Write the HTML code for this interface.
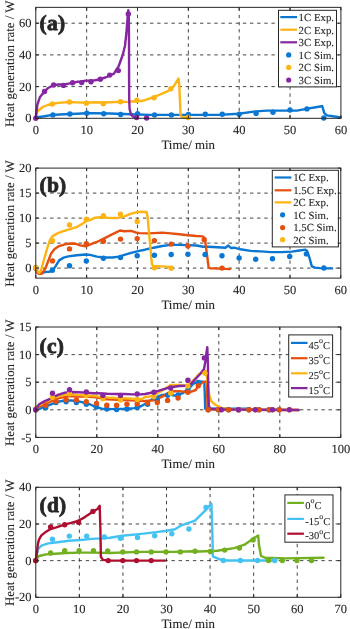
<!DOCTYPE html><html><head><meta charset="utf-8"><style>html,body{margin:0;padding:0;background:#fff;}svg{display:block;filter:blur(0.35px);} text{font-family:"Liberation Serif",serif;fill:#262626;stroke:#262626;stroke-width:0.1px;text-rendering:geometricPrecision;}</style></head><body>
<svg width="350" height="629" viewBox="0 0 350 629">
<rect width="350" height="629" fill="#fff"/>
<rect x="35.8" y="7.35" width="305.09999999999997" height="110.95" fill="#fff"/>
<line x1="86.65" y1="118.3" x2="86.65" y2="7.35" stroke="#262626" stroke-width="1" stroke-dasharray="3.4 3.75" stroke-opacity="0.85"/>
<line x1="137.50" y1="118.3" x2="137.50" y2="7.35" stroke="#262626" stroke-width="1" stroke-dasharray="3.4 3.75" stroke-opacity="0.85"/>
<line x1="188.35" y1="118.3" x2="188.35" y2="7.35" stroke="#262626" stroke-width="1" stroke-dasharray="3.4 3.75" stroke-opacity="0.85"/>
<line x1="239.20" y1="118.3" x2="239.20" y2="7.35" stroke="#262626" stroke-width="1" stroke-dasharray="3.4 3.75" stroke-opacity="0.85"/>
<line x1="290.05" y1="118.3" x2="290.05" y2="7.35" stroke="#262626" stroke-width="1" stroke-dasharray="3.4 3.75" stroke-opacity="0.85"/>
<line x1="35.8" y1="86.60" x2="340.9" y2="86.60" stroke="#262626" stroke-width="1" stroke-dasharray="3.4 3.74" stroke-opacity="0.85"/>
<line x1="35.8" y1="54.90" x2="340.9" y2="54.90" stroke="#262626" stroke-width="1" stroke-dasharray="3.4 3.74" stroke-opacity="0.85"/>
<line x1="35.8" y1="23.20" x2="340.9" y2="23.20" stroke="#262626" stroke-width="1" stroke-dasharray="3.4 3.74" stroke-opacity="0.85"/>
<polyline points="35.7,118.0 39.0,117.0 44.3,116.3 52.4,114.9 59.7,114.5 69.5,114.0 77.0,113.7 86.3,113.2 94.0,113.2 110.0,113.5 130.0,114.3 150.0,114.9 190.0,114.9 218.6,114.9 238.6,113.7 255.7,111.4 267.0,110.6 287.0,110.6 296.9,110.6 306.3,108.9 315.7,107.2 321.7,106.3 322.2,106.0 324.3,113.2 326.9,115.4 332.9,116.2 340.6,117.4" fill="none" stroke="#0A77D2" stroke-width="2.4" stroke-linejoin="round" stroke-linecap="round"/>
<polyline points="35.7,118.0 37.4,111.5 42.6,107.0 47.7,105.0 52.0,104.0 58.0,102.9 69.2,102.0 77.0,102.4 86.3,102.8 94.0,102.2 102.9,102.5 110.0,102.2 120.5,101.9 128.0,101.7 136.6,101.2 141.5,101.0 146.3,99.6 154.1,97.0 160.4,94.4 166.7,91.7 171.4,88.9 174.6,84.9 178.6,78.4 179.3,85.7 180.6,115.6 182.5,117.2 188.0,117.8" fill="none" stroke="#FDB414" stroke-width="2.4" stroke-linejoin="round" stroke-linecap="round"/>
<polyline points="35.7,118.3 37.4,104.6 40.0,96.9 44.6,91.4 47.7,88.3 53.7,85.0 58.9,84.5 63.5,84.5 68.3,83.7 72.6,82.8 76.9,81.8 81.7,81.5 85.5,80.6 90.6,80.6 95.1,80.2 100.3,79.2 105.4,77.5 110.0,75.5 114.0,73.7 116.4,69.5 118.3,67.0 120.0,62.5 122.9,54.3 125.0,45.7 126.4,33.0 127.4,20.0 128.3,10.3 128.8,14.0 129.0,40.0 129.1,80.0 129.2,100.0 129.6,109.0 130.9,114.3 133.1,116.6 136.0,117.4 137.0,117.5" fill="none" stroke="#8626A0" stroke-width="2.4" stroke-linejoin="round" stroke-linecap="round"/>
<circle cx="52.9" cy="114.9" r="2.7" fill="#0A77D2"/>
<circle cx="69.9" cy="114.0" r="2.7" fill="#0A77D2"/>
<circle cx="86.8" cy="113.2" r="2.7" fill="#0A77D2"/>
<circle cx="103.7" cy="113.7" r="2.7" fill="#0A77D2"/>
<circle cx="120.7" cy="114.5" r="2.7" fill="#0A77D2"/>
<circle cx="137.6" cy="113.7" r="2.7" fill="#0A77D2"/>
<circle cx="154.5" cy="114.9" r="2.7" fill="#0A77D2"/>
<circle cx="171.4" cy="114.9" r="2.7" fill="#0A77D2"/>
<circle cx="188.4" cy="114.5" r="2.7" fill="#0A77D2"/>
<circle cx="205.3" cy="114.3" r="2.7" fill="#0A77D2"/>
<circle cx="222.3" cy="114.3" r="2.7" fill="#0A77D2"/>
<circle cx="239.2" cy="114.3" r="2.7" fill="#0A77D2"/>
<circle cx="256.1" cy="113.4" r="2.7" fill="#0A77D2"/>
<circle cx="273.0" cy="112.3" r="2.7" fill="#0A77D2"/>
<circle cx="290.0" cy="110.0" r="2.7" fill="#0A77D2"/>
<circle cx="306.9" cy="108.9" r="2.7" fill="#0A77D2"/>
<circle cx="323.8" cy="118.0" r="2.7" fill="#0A77D2"/>
<circle cx="52.4" cy="104.0" r="2.7" fill="#FDB414"/>
<circle cx="69.4" cy="102.0" r="2.7" fill="#FDB414"/>
<circle cx="86.3" cy="103.2" r="2.7" fill="#FDB414"/>
<circle cx="103.2" cy="103.7" r="2.7" fill="#FDB414"/>
<circle cx="120.5" cy="101.7" r="2.7" fill="#FDB414"/>
<circle cx="136.9" cy="100.3" r="2.7" fill="#FDB414"/>
<circle cx="154.1" cy="97.7" r="2.7" fill="#FDB414"/>
<circle cx="170.9" cy="88.8" r="2.7" fill="#FDB414"/>
<circle cx="188.0" cy="117.5" r="2.7" fill="#FDB414"/>
<circle cx="35.8" cy="118.3" r="2.7" fill="#8626A0"/>
<circle cx="44.5" cy="91.5" r="2.7" fill="#8626A0"/>
<circle cx="53.6" cy="85.0" r="2.7" fill="#8626A0"/>
<circle cx="63.5" cy="85.4" r="2.7" fill="#8626A0"/>
<circle cx="72.6" cy="82.8" r="2.7" fill="#8626A0"/>
<circle cx="81.7" cy="82.6" r="2.7" fill="#8626A0"/>
<circle cx="91.0" cy="81.7" r="2.7" fill="#8626A0"/>
<circle cx="100.3" cy="79.2" r="2.7" fill="#8626A0"/>
<circle cx="109.7" cy="75.1" r="2.7" fill="#8626A0"/>
<circle cx="118.3" cy="70.6" r="2.7" fill="#8626A0"/>
<circle cx="128.3" cy="14.0" r="2.7" fill="#8626A0"/>
<circle cx="136.6" cy="117.5" r="2.7" fill="#8626A0"/>
<circle cx="146.6" cy="118.0" r="2.7" fill="#8626A0"/>
<rect x="278.5" y="10.3" width="58.0" height="76.60000000000001" fill="#fff" stroke="#262626" stroke-width="1"/>
<line x1="280.3" y1="17.1" x2="297" y2="17.1" stroke="#0A77D2" stroke-width="2.2"/>
<text x="298.60" y="20.90" font-size="10.8" text-anchor="start" font-weight="normal" >1C Exp.</text>
<line x1="280.3" y1="29.7" x2="297" y2="29.7" stroke="#FDB414" stroke-width="2.2"/>
<text x="298.60" y="33.50" font-size="10.8" text-anchor="start" font-weight="normal" >2C Exp.</text>
<line x1="280.3" y1="42.3" x2="297" y2="42.3" stroke="#8626A0" stroke-width="2.2"/>
<text x="298.60" y="46.10" font-size="10.8" text-anchor="start" font-weight="normal" >3C Exp.</text>
<circle cx="288.7" cy="54.9" r="2.6" fill="#0A77D2"/>
<text x="298.60" y="58.70" font-size="10.8" text-anchor="start" font-weight="normal" >1C Sim.</text>
<circle cx="288.7" cy="67.4" r="2.6" fill="#FDB414"/>
<text x="298.60" y="71.20" font-size="10.8" text-anchor="start" font-weight="normal" >2C Sim.</text>
<circle cx="288.7" cy="80.0" r="2.6" fill="#8626A0"/>
<text x="298.60" y="83.80" font-size="10.8" text-anchor="start" font-weight="normal" >3C Sim.</text>
<line x1="35.80" y1="118.3" x2="35.80" y2="115.3" stroke="#262626" stroke-width="1"/>
<line x1="35.80" y1="7.35" x2="35.80" y2="10.35" stroke="#262626" stroke-width="1"/>
<text x="35.80" y="133.90" font-size="12.5" text-anchor="middle" font-weight="normal" >0</text>
<line x1="86.65" y1="118.3" x2="86.65" y2="115.3" stroke="#262626" stroke-width="1"/>
<line x1="86.65" y1="7.35" x2="86.65" y2="10.35" stroke="#262626" stroke-width="1"/>
<text x="86.65" y="133.90" font-size="12.5" text-anchor="middle" font-weight="normal" >10</text>
<line x1="137.50" y1="118.3" x2="137.50" y2="115.3" stroke="#262626" stroke-width="1"/>
<line x1="137.50" y1="7.35" x2="137.50" y2="10.35" stroke="#262626" stroke-width="1"/>
<text x="137.50" y="133.90" font-size="12.5" text-anchor="middle" font-weight="normal" >20</text>
<line x1="188.35" y1="118.3" x2="188.35" y2="115.3" stroke="#262626" stroke-width="1"/>
<line x1="188.35" y1="7.35" x2="188.35" y2="10.35" stroke="#262626" stroke-width="1"/>
<text x="188.35" y="133.90" font-size="12.5" text-anchor="middle" font-weight="normal" >30</text>
<line x1="239.20" y1="118.3" x2="239.20" y2="115.3" stroke="#262626" stroke-width="1"/>
<line x1="239.20" y1="7.35" x2="239.20" y2="10.35" stroke="#262626" stroke-width="1"/>
<text x="239.20" y="133.90" font-size="12.5" text-anchor="middle" font-weight="normal" >40</text>
<line x1="290.05" y1="118.3" x2="290.05" y2="115.3" stroke="#262626" stroke-width="1"/>
<line x1="290.05" y1="7.35" x2="290.05" y2="10.35" stroke="#262626" stroke-width="1"/>
<text x="290.05" y="133.90" font-size="12.5" text-anchor="middle" font-weight="normal" >50</text>
<line x1="340.90" y1="118.3" x2="340.90" y2="115.3" stroke="#262626" stroke-width="1"/>
<line x1="340.90" y1="7.35" x2="340.90" y2="10.35" stroke="#262626" stroke-width="1"/>
<text x="340.90" y="133.90" font-size="12.5" text-anchor="middle" font-weight="normal" >60</text>
<line x1="35.8" y1="118.30" x2="38.8" y2="118.30" stroke="#262626" stroke-width="1"/>
<line x1="340.9" y1="118.30" x2="337.9" y2="118.30" stroke="#262626" stroke-width="1"/>
<text x="31.60" y="122.40" font-size="12.5" text-anchor="end" font-weight="normal" >0</text>
<line x1="35.8" y1="86.60" x2="38.8" y2="86.60" stroke="#262626" stroke-width="1"/>
<line x1="340.9" y1="86.60" x2="337.9" y2="86.60" stroke="#262626" stroke-width="1"/>
<text x="31.60" y="90.70" font-size="12.5" text-anchor="end" font-weight="normal" >20</text>
<line x1="35.8" y1="54.90" x2="38.8" y2="54.90" stroke="#262626" stroke-width="1"/>
<line x1="340.9" y1="54.90" x2="337.9" y2="54.90" stroke="#262626" stroke-width="1"/>
<text x="31.60" y="59.00" font-size="12.5" text-anchor="end" font-weight="normal" >40</text>
<line x1="35.8" y1="23.20" x2="38.8" y2="23.20" stroke="#262626" stroke-width="1"/>
<line x1="340.9" y1="23.20" x2="337.9" y2="23.20" stroke="#262626" stroke-width="1"/>
<text x="31.60" y="27.30" font-size="12.5" text-anchor="end" font-weight="normal" >60</text>
<rect x="35.8" y="7.35" width="305.10" height="110.95" fill="none" stroke="#262626" stroke-width="1.0"/>
<text x="188.20" y="148.80" font-size="12.9" text-anchor="middle" font-weight="normal" >Time/ min</text>
<text x="0" y="0" font-size="12.9" text-anchor="middle" transform="translate(14.4 63.7) rotate(-90)">Heat generation rate / W</text>
<text x="39.60" y="29.90" font-size="21.5" text-anchor="start" font-weight="bold" style="stroke-width:0.8px" letter-spacing="0.2">(a)</text>
<rect x="35.8" y="168.1" width="305.0" height="110.00000000000003" fill="#fff"/>
<line x1="86.63" y1="278.1" x2="86.63" y2="168.1" stroke="#262626" stroke-width="1" stroke-dasharray="3.4 3.75" stroke-opacity="0.85"/>
<line x1="137.47" y1="278.1" x2="137.47" y2="168.1" stroke="#262626" stroke-width="1" stroke-dasharray="3.4 3.75" stroke-opacity="0.85"/>
<line x1="188.30" y1="278.1" x2="188.30" y2="168.1" stroke="#262626" stroke-width="1" stroke-dasharray="3.4 3.75" stroke-opacity="0.85"/>
<line x1="239.13" y1="278.1" x2="239.13" y2="168.1" stroke="#262626" stroke-width="1" stroke-dasharray="3.4 3.75" stroke-opacity="0.85"/>
<line x1="289.97" y1="278.1" x2="289.97" y2="168.1" stroke="#262626" stroke-width="1" stroke-dasharray="3.4 3.75" stroke-opacity="0.85"/>
<line x1="35.8" y1="268.10" x2="340.8" y2="268.10" stroke="#262626" stroke-width="1" stroke-dasharray="3.4 3.74" stroke-opacity="0.85"/>
<line x1="35.8" y1="243.10" x2="340.8" y2="243.10" stroke="#262626" stroke-width="1" stroke-dasharray="3.4 3.74" stroke-opacity="0.85"/>
<line x1="35.8" y1="218.10" x2="340.8" y2="218.10" stroke="#262626" stroke-width="1" stroke-dasharray="3.4 3.74" stroke-opacity="0.85"/>
<line x1="35.8" y1="193.10" x2="340.8" y2="193.10" stroke="#262626" stroke-width="1" stroke-dasharray="3.4 3.74" stroke-opacity="0.85"/>
<polyline points="36.0,270.0 38.6,273.0 42.0,273.0 45.4,271.9 48.9,271.9 52.3,270.7 55.7,266.1 59.1,260.4 63.7,257.6 68.3,256.4 76.9,255.2 85.5,254.5 90.0,254.9 96.9,256.6 103.7,257.5 112.3,257.5 119.2,256.6 124.3,254.9 131.2,252.8 138.0,251.1 144.9,249.7 150.0,248.5 153.6,247.7 162.2,246.0 170.7,244.9 179.3,244.9 187.9,245.1 196.5,245.5 203.3,246.7 208.6,246.7 217.2,247.2 225.7,247.7 228.3,245.5 230.9,248.0 234.3,247.7 240.3,249.3 250.6,250.9 260.9,251.4 271.1,252.1 281.4,252.1 291.7,251.6 299.4,250.5 305.3,249.6 307.1,250.9 309.7,258.6 311.8,266.3 314.9,267.6 320.0,268.1 327.0,268.4 332.1,268.4" fill="none" stroke="#0A77D2" stroke-width="2.4" stroke-linejoin="round" stroke-linecap="round"/>
<polyline points="36.0,270.0 37.4,273.0 39.1,274.1 42.0,273.6 45.4,268.4 48.9,259.3 51.1,253.6 54.6,249.0 59.1,246.1 64.9,244.4 70.0,243.5 75.2,243.7 80.3,245.4 85.5,246.3 90.6,244.3 94.0,242.9 96.9,242.0 103.7,238.6 110.6,235.2 115.7,232.6 120.0,230.5 124.3,231.2 131.2,230.9 136.3,232.6 139.7,233.1 148.3,233.4 153.6,233.1 162.2,232.6 170.7,233.4 179.3,234.3 187.9,235.2 196.5,236.0 202.6,236.4 204.3,237.7 205.1,240.3 208.6,267.2 210.3,268.3 220.6,268.6 230.0,269.1" fill="none" stroke="#E5500F" stroke-width="2.4" stroke-linejoin="round" stroke-linecap="round"/>
<polyline points="35.7,268.6 37.4,270.7 39.1,273.0 40.9,270.7 43.1,262.7 45.4,254.7 47.7,246.7 50.0,239.9 52.3,236.4 56.9,233.6 62.6,231.3 68.3,229.6 74.0,227.9 76.9,227.0 82.0,224.0 87.2,220.6 90.0,220.2 95.1,217.7 100.3,217.2 107.2,217.7 114.0,218.0 119.2,217.7 124.3,216.3 131.2,213.7 136.3,212.3 141.5,211.7 146.6,212.0 147.6,217.2 151.9,264.3 153.6,266.0 162.2,266.4 172.4,267.2" fill="none" stroke="#FDB414" stroke-width="2.4" stroke-linejoin="round" stroke-linecap="round"/>
<circle cx="35.7" cy="268.0" r="2.7" fill="#0A77D2"/>
<circle cx="52.4" cy="270.3" r="2.7" fill="#0A77D2"/>
<circle cx="69.5" cy="265.7" r="2.7" fill="#0A77D2"/>
<circle cx="86.3" cy="260.9" r="2.7" fill="#0A77D2"/>
<circle cx="103.4" cy="258.3" r="2.7" fill="#0A77D2"/>
<circle cx="120.5" cy="257.5" r="2.7" fill="#0A77D2"/>
<circle cx="137.2" cy="255.7" r="2.7" fill="#0A77D2"/>
<circle cx="154.4" cy="255.2" r="2.7" fill="#0A77D2"/>
<circle cx="171.2" cy="254.5" r="2.7" fill="#0A77D2"/>
<circle cx="187.9" cy="254.2" r="2.7" fill="#0A77D2"/>
<circle cx="205.1" cy="254.5" r="2.7" fill="#0A77D2"/>
<circle cx="222.0" cy="255.7" r="2.7" fill="#0A77D2"/>
<circle cx="239.1" cy="258.0" r="2.7" fill="#0A77D2"/>
<circle cx="255.7" cy="259.2" r="2.7" fill="#0A77D2"/>
<circle cx="272.5" cy="258.8" r="2.7" fill="#0A77D2"/>
<circle cx="289.7" cy="256.5" r="2.7" fill="#0A77D2"/>
<circle cx="306.4" cy="253.9" r="2.7" fill="#0A77D2"/>
<circle cx="323.9" cy="268.0" r="2.7" fill="#0A77D2"/>
<circle cx="35.7" cy="268.0" r="2.7" fill="#E5500F"/>
<circle cx="52.5" cy="260.9" r="2.7" fill="#E5500F"/>
<circle cx="69.5" cy="248.9" r="2.7" fill="#E5500F"/>
<circle cx="86.3" cy="243.7" r="2.7" fill="#E5500F"/>
<circle cx="103.4" cy="241.2" r="2.7" fill="#E5500F"/>
<circle cx="120.5" cy="239.1" r="2.7" fill="#E5500F"/>
<circle cx="137.2" cy="238.6" r="2.7" fill="#E5500F"/>
<circle cx="154.4" cy="240.6" r="2.7" fill="#E5500F"/>
<circle cx="171.2" cy="244.1" r="2.7" fill="#E5500F"/>
<circle cx="187.9" cy="246.0" r="2.7" fill="#E5500F"/>
<circle cx="204.2" cy="239.8" r="2.7" fill="#E5500F"/>
<circle cx="222.0" cy="268.1" r="2.7" fill="#E5500F"/>
<circle cx="35.7" cy="267.8" r="2.7" fill="#FDB414"/>
<circle cx="52.5" cy="240.8" r="2.7" fill="#FDB414"/>
<circle cx="69.5" cy="224.9" r="2.7" fill="#FDB414"/>
<circle cx="86.3" cy="219.2" r="2.7" fill="#FDB414"/>
<circle cx="103.4" cy="215.8" r="2.7" fill="#FDB414"/>
<circle cx="120.5" cy="214.2" r="2.7" fill="#FDB414"/>
<circle cx="137.2" cy="221.4" r="2.7" fill="#FDB414"/>
<circle cx="154.4" cy="267.8" r="2.7" fill="#FDB414"/>
<circle cx="171.2" cy="268.3" r="2.7" fill="#FDB414"/>
<rect x="272.3" y="170.3" width="66.09999999999997" height="76.6" fill="#fff" stroke="#262626" stroke-width="1"/>
<line x1="274.7" y1="177.5" x2="291.4" y2="177.5" stroke="#0A77D2" stroke-width="2.2"/>
<text x="293.20" y="181.30" font-size="10.8" text-anchor="start" font-weight="normal" >1C Exp.</text>
<line x1="274.7" y1="190.3" x2="291.4" y2="190.3" stroke="#E5500F" stroke-width="2.2"/>
<text x="293.20" y="194.10" font-size="10.8" text-anchor="start" font-weight="normal" >1.5C Exp.</text>
<line x1="274.7" y1="202.4" x2="291.4" y2="202.4" stroke="#FDB414" stroke-width="2.2"/>
<text x="293.20" y="206.20" font-size="10.8" text-anchor="start" font-weight="normal" >2C Exp.</text>
<circle cx="282.6" cy="214.8" r="2.6" fill="#0A77D2"/>
<text x="293.20" y="218.60" font-size="10.8" text-anchor="start" font-weight="normal" >1C Sim.</text>
<circle cx="282.6" cy="227.6" r="2.6" fill="#E5500F"/>
<text x="293.20" y="231.40" font-size="10.8" text-anchor="start" font-weight="normal" >1.5C Sim.</text>
<circle cx="282.6" cy="239.7" r="2.6" fill="#FDB414"/>
<text x="293.20" y="243.50" font-size="10.8" text-anchor="start" font-weight="normal" >2C Sim.</text>
<line x1="35.80" y1="278.1" x2="35.80" y2="275.1" stroke="#262626" stroke-width="1"/>
<line x1="35.80" y1="168.1" x2="35.80" y2="171.1" stroke="#262626" stroke-width="1"/>
<text x="35.80" y="293.70" font-size="12.5" text-anchor="middle" font-weight="normal" >0</text>
<line x1="86.63" y1="278.1" x2="86.63" y2="275.1" stroke="#262626" stroke-width="1"/>
<line x1="86.63" y1="168.1" x2="86.63" y2="171.1" stroke="#262626" stroke-width="1"/>
<text x="86.63" y="293.70" font-size="12.5" text-anchor="middle" font-weight="normal" >10</text>
<line x1="137.47" y1="278.1" x2="137.47" y2="275.1" stroke="#262626" stroke-width="1"/>
<line x1="137.47" y1="168.1" x2="137.47" y2="171.1" stroke="#262626" stroke-width="1"/>
<text x="137.47" y="293.70" font-size="12.5" text-anchor="middle" font-weight="normal" >20</text>
<line x1="188.30" y1="278.1" x2="188.30" y2="275.1" stroke="#262626" stroke-width="1"/>
<line x1="188.30" y1="168.1" x2="188.30" y2="171.1" stroke="#262626" stroke-width="1"/>
<text x="188.30" y="293.70" font-size="12.5" text-anchor="middle" font-weight="normal" >30</text>
<line x1="239.13" y1="278.1" x2="239.13" y2="275.1" stroke="#262626" stroke-width="1"/>
<line x1="239.13" y1="168.1" x2="239.13" y2="171.1" stroke="#262626" stroke-width="1"/>
<text x="239.13" y="293.70" font-size="12.5" text-anchor="middle" font-weight="normal" >40</text>
<line x1="289.97" y1="278.1" x2="289.97" y2="275.1" stroke="#262626" stroke-width="1"/>
<line x1="289.97" y1="168.1" x2="289.97" y2="171.1" stroke="#262626" stroke-width="1"/>
<text x="289.97" y="293.70" font-size="12.5" text-anchor="middle" font-weight="normal" >50</text>
<line x1="340.80" y1="278.1" x2="340.80" y2="275.1" stroke="#262626" stroke-width="1"/>
<line x1="340.80" y1="168.1" x2="340.80" y2="171.1" stroke="#262626" stroke-width="1"/>
<text x="340.80" y="293.70" font-size="12.5" text-anchor="middle" font-weight="normal" >60</text>
<line x1="35.8" y1="268.10" x2="38.8" y2="268.10" stroke="#262626" stroke-width="1"/>
<line x1="340.8" y1="268.10" x2="337.8" y2="268.10" stroke="#262626" stroke-width="1"/>
<text x="31.60" y="272.20" font-size="12.5" text-anchor="end" font-weight="normal" >0</text>
<line x1="35.8" y1="243.10" x2="38.8" y2="243.10" stroke="#262626" stroke-width="1"/>
<line x1="340.8" y1="243.10" x2="337.8" y2="243.10" stroke="#262626" stroke-width="1"/>
<text x="31.60" y="247.20" font-size="12.5" text-anchor="end" font-weight="normal" >5</text>
<line x1="35.8" y1="218.10" x2="38.8" y2="218.10" stroke="#262626" stroke-width="1"/>
<line x1="340.8" y1="218.10" x2="337.8" y2="218.10" stroke="#262626" stroke-width="1"/>
<text x="31.60" y="222.20" font-size="12.5" text-anchor="end" font-weight="normal" >10</text>
<line x1="35.8" y1="193.10" x2="38.8" y2="193.10" stroke="#262626" stroke-width="1"/>
<line x1="340.8" y1="193.10" x2="337.8" y2="193.10" stroke="#262626" stroke-width="1"/>
<text x="31.60" y="197.20" font-size="12.5" text-anchor="end" font-weight="normal" >15</text>
<line x1="35.8" y1="168.10" x2="38.8" y2="168.10" stroke="#262626" stroke-width="1"/>
<line x1="340.8" y1="168.10" x2="337.8" y2="168.10" stroke="#262626" stroke-width="1"/>
<text x="31.60" y="172.20" font-size="12.5" text-anchor="end" font-weight="normal" >20</text>
<rect x="35.8" y="168.1" width="305.00" height="110.00" fill="none" stroke="#262626" stroke-width="1.0"/>
<text x="188.20" y="308.70" font-size="12.9" text-anchor="middle" font-weight="normal" >Time/ min</text>
<text x="0" y="0" font-size="12.9" text-anchor="middle" transform="translate(14.4 223.5) rotate(-90)">Heat generation rate / W</text>
<text x="39.60" y="192.40" font-size="21.5" text-anchor="start" font-weight="bold" style="stroke-width:0.8px" letter-spacing="0.2">(b)</text>
<rect x="35.8" y="327.0" width="305.0" height="110.39999999999998" fill="#fff"/>
<line x1="96.80" y1="437.4" x2="96.80" y2="327.0" stroke="#262626" stroke-width="1" stroke-dasharray="3.4 3.75" stroke-opacity="0.85"/>
<line x1="157.80" y1="437.4" x2="157.80" y2="327.0" stroke="#262626" stroke-width="1" stroke-dasharray="3.4 3.75" stroke-opacity="0.85"/>
<line x1="218.80" y1="437.4" x2="218.80" y2="327.0" stroke="#262626" stroke-width="1" stroke-dasharray="3.4 3.75" stroke-opacity="0.85"/>
<line x1="279.80" y1="437.4" x2="279.80" y2="327.0" stroke="#262626" stroke-width="1" stroke-dasharray="3.4 3.75" stroke-opacity="0.85"/>
<line x1="35.8" y1="409.80" x2="340.8" y2="409.80" stroke="#262626" stroke-width="1" stroke-dasharray="3.4 3.74" stroke-opacity="0.85"/>
<line x1="35.8" y1="382.20" x2="340.8" y2="382.20" stroke="#262626" stroke-width="1" stroke-dasharray="3.4 3.74" stroke-opacity="0.85"/>
<line x1="35.8" y1="354.60" x2="340.8" y2="354.60" stroke="#262626" stroke-width="1" stroke-dasharray="3.4 3.74" stroke-opacity="0.85"/>
<polyline points="35.7,410.3 44.3,406.9 51.2,404.3 58.0,401.7 64.9,400.5 71.7,400.5 78.6,401.4 85.5,403.0 90.0,404.3 95.1,406.9 102.0,408.6 112.3,409.1 124.3,408.8 134.6,408.1 141.5,406.0 145.0,404.0 153.6,398.3 162.2,394.9 169.0,394.5 175.9,395.7 182.7,393.2 189.6,388.0 193.0,384.0 197.1,382.1 201.4,381.4 204.3,382.1 204.8,395.0 205.2,408.6 240.0,408.6 250.0,408.8" fill="none" stroke="#0A77D2" stroke-width="2.4" stroke-linejoin="round" stroke-linecap="round"/>
<polyline points="35.7,408.1 44.3,404.3 51.2,401.4 58.0,398.3 68.3,396.1 76.9,396.6 85.5,396.6 94.0,397.1 107.2,399.2 124.3,400.0 141.5,400.9 145.0,401.0 153.6,400.4 162.2,396.6 170.7,391.5 179.3,391.1 187.9,392.3 190.0,392.1 195.7,390.0 198.6,385.7 202.9,382.1 206.4,381.4 206.9,383.6 207.5,407.9 210.0,409.5 298.6,410.0" fill="none" stroke="#E5500F" stroke-width="2.4" stroke-linejoin="round" stroke-linecap="round"/>
<polyline points="35.7,406.9 44.3,402.6 51.2,399.2 58.0,396.6 68.3,394.0 76.9,394.9 85.5,395.4 94.0,395.7 98.6,396.6 107.2,397.4 115.7,398.0 124.3,398.3 132.9,398.8 141.5,399.2 145.0,397.0 150.0,396.5 153.6,394.9 162.2,390.6 170.7,384.9 179.3,384.9 187.9,386.3 190.0,383.6 196.5,377.0 198.6,374.3 204.3,371.4 205.7,370.7 207.1,377.9 209.3,395.0 211.4,401.4 215.7,405.0 221.4,407.9 230.0,409.5 298.0,410.0" fill="none" stroke="#FDB414" stroke-width="2.4" stroke-linejoin="round" stroke-linecap="round"/>
<polyline points="35.7,409.5 39.1,404.3 44.3,401.4 51.2,398.3 58.0,394.9 64.9,392.6 71.7,392.0 78.6,392.3 85.5,392.6 94.0,393.2 98.6,393.2 107.2,393.7 115.7,394.0 124.3,394.0 132.9,394.4 141.5,394.2 145.0,394.0 153.6,392.3 162.2,389.7 170.7,387.2 179.3,386.0 186.2,385.8 190.0,385.0 195.0,379.5 200.0,374.2 204.0,369.0 205.5,360.5 206.5,352.5 207.3,347.1 207.9,363.6 208.3,392.1 208.9,406.4 210.7,408.6 218.6,409.3 240.0,409.6 298.6,410.0" fill="none" stroke="#8626A0" stroke-width="2.4" stroke-linejoin="round" stroke-linecap="round"/>
<circle cx="35.7" cy="409.8" r="2.7" fill="#0A77D2"/>
<circle cx="45.7" cy="407.7" r="2.7" fill="#0A77D2"/>
<circle cx="56.0" cy="402.6" r="2.7" fill="#0A77D2"/>
<circle cx="66.1" cy="401.7" r="2.7" fill="#0A77D2"/>
<circle cx="76.4" cy="402.6" r="2.7" fill="#0A77D2"/>
<circle cx="86.3" cy="404.3" r="2.7" fill="#0A77D2"/>
<circle cx="96.5" cy="407.0" r="2.7" fill="#0A77D2"/>
<circle cx="106.8" cy="409.0" r="2.7" fill="#0A77D2"/>
<circle cx="116.6" cy="409.5" r="2.7" fill="#0A77D2"/>
<circle cx="126.9" cy="409.0" r="2.7" fill="#0A77D2"/>
<circle cx="137.2" cy="407.5" r="2.7" fill="#0A77D2"/>
<circle cx="147.6" cy="404.3" r="2.7" fill="#0A77D2"/>
<circle cx="157.3" cy="400.0" r="2.7" fill="#0A77D2"/>
<circle cx="167.6" cy="395.2" r="2.7" fill="#0A77D2"/>
<circle cx="178.1" cy="394.9" r="2.7" fill="#0A77D2"/>
<circle cx="187.9" cy="390.0" r="2.7" fill="#0A77D2"/>
<circle cx="198.2" cy="382.5" r="2.7" fill="#0A77D2"/>
<circle cx="208.2" cy="409.8" r="2.7" fill="#0A77D2"/>
<circle cx="218.4" cy="409.8" r="2.7" fill="#0A77D2"/>
<circle cx="228.6" cy="409.8" r="2.7" fill="#0A77D2"/>
<circle cx="238.7" cy="409.8" r="2.7" fill="#0A77D2"/>
<circle cx="248.9" cy="409.8" r="2.7" fill="#0A77D2"/>
<circle cx="259.0" cy="409.8" r="2.7" fill="#0A77D2"/>
<circle cx="269.2" cy="409.8" r="2.7" fill="#0A77D2"/>
<circle cx="279.3" cy="409.8" r="2.7" fill="#0A77D2"/>
<circle cx="35.7" cy="409.8" r="2.7" fill="#E5500F"/>
<circle cx="45.7" cy="405.2" r="2.7" fill="#E5500F"/>
<circle cx="56.0" cy="401.2" r="2.7" fill="#E5500F"/>
<circle cx="66.1" cy="399.7" r="2.7" fill="#E5500F"/>
<circle cx="76.4" cy="400.0" r="2.7" fill="#E5500F"/>
<circle cx="86.3" cy="401.7" r="2.7" fill="#E5500F"/>
<circle cx="96.5" cy="403.4" r="2.7" fill="#E5500F"/>
<circle cx="106.8" cy="405.2" r="2.7" fill="#E5500F"/>
<circle cx="116.6" cy="405.2" r="2.7" fill="#E5500F"/>
<circle cx="126.9" cy="404.3" r="2.7" fill="#E5500F"/>
<circle cx="137.2" cy="404.0" r="2.7" fill="#E5500F"/>
<circle cx="147.5" cy="402.9" r="2.7" fill="#E5500F"/>
<circle cx="157.3" cy="402.6" r="2.7" fill="#E5500F"/>
<circle cx="167.6" cy="400.4" r="2.7" fill="#E5500F"/>
<circle cx="178.1" cy="398.0" r="2.7" fill="#E5500F"/>
<circle cx="187.9" cy="392.3" r="2.7" fill="#E5500F"/>
<circle cx="198.3" cy="385.7" r="2.7" fill="#E5500F"/>
<circle cx="208.2" cy="409.8" r="2.7" fill="#E5500F"/>
<circle cx="218.4" cy="409.8" r="2.7" fill="#E5500F"/>
<circle cx="228.6" cy="409.8" r="2.7" fill="#E5500F"/>
<circle cx="238.7" cy="409.8" r="2.7" fill="#E5500F"/>
<circle cx="248.9" cy="409.8" r="2.7" fill="#E5500F"/>
<circle cx="259.0" cy="409.8" r="2.7" fill="#E5500F"/>
<circle cx="269.2" cy="409.8" r="2.7" fill="#E5500F"/>
<circle cx="279.3" cy="409.8" r="2.7" fill="#E5500F"/>
<circle cx="35.7" cy="409.8" r="2.7" fill="#FDB414"/>
<circle cx="52.5" cy="397.4" r="2.7" fill="#FDB414"/>
<circle cx="69.5" cy="393.7" r="2.7" fill="#FDB414"/>
<circle cx="86.3" cy="395.7" r="2.7" fill="#FDB414"/>
<circle cx="102.9" cy="398.8" r="2.7" fill="#FDB414"/>
<circle cx="120.5" cy="400.0" r="2.7" fill="#FDB414"/>
<circle cx="137.2" cy="399.5" r="2.7" fill="#FDB414"/>
<circle cx="153.9" cy="396.6" r="2.7" fill="#FDB414"/>
<circle cx="170.7" cy="393.2" r="2.7" fill="#FDB414"/>
<circle cx="187.9" cy="386.0" r="2.7" fill="#FDB414"/>
<circle cx="205.0" cy="373.3" r="2.7" fill="#FDB414"/>
<circle cx="221.4" cy="409.8" r="2.7" fill="#FDB414"/>
<circle cx="238.4" cy="409.8" r="2.7" fill="#FDB414"/>
<circle cx="255.4" cy="409.8" r="2.7" fill="#FDB414"/>
<circle cx="272.4" cy="409.8" r="2.7" fill="#FDB414"/>
<circle cx="289.4" cy="409.8" r="2.7" fill="#FDB414"/>
<circle cx="35.7" cy="409.8" r="2.7" fill="#8626A0"/>
<circle cx="52.5" cy="393.2" r="2.7" fill="#8626A0"/>
<circle cx="69.5" cy="389.7" r="2.7" fill="#8626A0"/>
<circle cx="86.3" cy="392.0" r="2.7" fill="#8626A0"/>
<circle cx="102.9" cy="395.4" r="2.7" fill="#8626A0"/>
<circle cx="120.5" cy="395.4" r="2.7" fill="#8626A0"/>
<circle cx="137.2" cy="394.0" r="2.7" fill="#8626A0"/>
<circle cx="153.9" cy="392.3" r="2.7" fill="#8626A0"/>
<circle cx="170.7" cy="388.0" r="2.7" fill="#8626A0"/>
<circle cx="187.9" cy="380.3" r="2.7" fill="#8626A0"/>
<circle cx="204.3" cy="357.9" r="2.7" fill="#8626A0"/>
<circle cx="221.4" cy="409.8" r="2.7" fill="#8626A0"/>
<circle cx="238.4" cy="409.8" r="2.7" fill="#8626A0"/>
<circle cx="255.4" cy="409.8" r="2.7" fill="#8626A0"/>
<circle cx="272.4" cy="409.8" r="2.7" fill="#8626A0"/>
<circle cx="289.4" cy="409.8" r="2.7" fill="#8626A0"/>
<rect x="288.7" y="334.9" width="43.900000000000034" height="62.10000000000002" fill="#fff" stroke="#262626" stroke-width="1"/>
<line x1="291" y1="342.9" x2="307.5" y2="342.9" stroke="#0A77D2" stroke-width="2.2"/>
<text x="308.6" y="348.5" font-size="10.5">45<tspan dy="-5.4" font-size="8">o</tspan><tspan dy="5.4">C</tspan></text>
<line x1="291" y1="358.2" x2="307.5" y2="358.2" stroke="#E5500F" stroke-width="2.2"/>
<text x="308.6" y="363.8" font-size="10.5">35<tspan dy="-5.4" font-size="8">o</tspan><tspan dy="5.4">C</tspan></text>
<line x1="291" y1="373.3" x2="307.5" y2="373.3" stroke="#FDB414" stroke-width="2.2"/>
<text x="308.6" y="378.90000000000003" font-size="10.5">25<tspan dy="-5.4" font-size="8">o</tspan><tspan dy="5.4">C</tspan></text>
<line x1="291" y1="388.1" x2="307.5" y2="388.1" stroke="#8626A0" stroke-width="2.2"/>
<text x="308.6" y="393.70000000000005" font-size="10.5">15<tspan dy="-5.4" font-size="8">o</tspan><tspan dy="5.4">C</tspan></text>
<line x1="35.80" y1="437.4" x2="35.80" y2="434.4" stroke="#262626" stroke-width="1"/>
<line x1="35.80" y1="327.0" x2="35.80" y2="330.0" stroke="#262626" stroke-width="1"/>
<text x="35.80" y="453.00" font-size="12.5" text-anchor="middle" font-weight="normal" >0</text>
<line x1="96.80" y1="437.4" x2="96.80" y2="434.4" stroke="#262626" stroke-width="1"/>
<line x1="96.80" y1="327.0" x2="96.80" y2="330.0" stroke="#262626" stroke-width="1"/>
<text x="96.80" y="453.00" font-size="12.5" text-anchor="middle" font-weight="normal" >20</text>
<line x1="157.80" y1="437.4" x2="157.80" y2="434.4" stroke="#262626" stroke-width="1"/>
<line x1="157.80" y1="327.0" x2="157.80" y2="330.0" stroke="#262626" stroke-width="1"/>
<text x="157.80" y="453.00" font-size="12.5" text-anchor="middle" font-weight="normal" >40</text>
<line x1="218.80" y1="437.4" x2="218.80" y2="434.4" stroke="#262626" stroke-width="1"/>
<line x1="218.80" y1="327.0" x2="218.80" y2="330.0" stroke="#262626" stroke-width="1"/>
<text x="218.80" y="453.00" font-size="12.5" text-anchor="middle" font-weight="normal" >60</text>
<line x1="279.80" y1="437.4" x2="279.80" y2="434.4" stroke="#262626" stroke-width="1"/>
<line x1="279.80" y1="327.0" x2="279.80" y2="330.0" stroke="#262626" stroke-width="1"/>
<text x="279.80" y="453.00" font-size="12.5" text-anchor="middle" font-weight="normal" >80</text>
<line x1="340.80" y1="437.4" x2="340.80" y2="434.4" stroke="#262626" stroke-width="1"/>
<line x1="340.80" y1="327.0" x2="340.80" y2="330.0" stroke="#262626" stroke-width="1"/>
<text x="340.80" y="453.00" font-size="12.5" text-anchor="middle" font-weight="normal" >100</text>
<line x1="35.8" y1="437.40" x2="38.8" y2="437.40" stroke="#262626" stroke-width="1"/>
<line x1="340.8" y1="437.40" x2="337.8" y2="437.40" stroke="#262626" stroke-width="1"/>
<text x="31.60" y="441.50" font-size="12.5" text-anchor="end" font-weight="normal" >-5</text>
<line x1="35.8" y1="409.80" x2="38.8" y2="409.80" stroke="#262626" stroke-width="1"/>
<line x1="340.8" y1="409.80" x2="337.8" y2="409.80" stroke="#262626" stroke-width="1"/>
<text x="31.60" y="413.90" font-size="12.5" text-anchor="end" font-weight="normal" >0</text>
<line x1="35.8" y1="382.20" x2="38.8" y2="382.20" stroke="#262626" stroke-width="1"/>
<line x1="340.8" y1="382.20" x2="337.8" y2="382.20" stroke="#262626" stroke-width="1"/>
<text x="31.60" y="386.30" font-size="12.5" text-anchor="end" font-weight="normal" >5</text>
<line x1="35.8" y1="354.60" x2="38.8" y2="354.60" stroke="#262626" stroke-width="1"/>
<line x1="340.8" y1="354.60" x2="337.8" y2="354.60" stroke="#262626" stroke-width="1"/>
<text x="31.60" y="358.70" font-size="12.5" text-anchor="end" font-weight="normal" >10</text>
<line x1="35.8" y1="327.00" x2="38.8" y2="327.00" stroke="#262626" stroke-width="1"/>
<line x1="340.8" y1="327.00" x2="337.8" y2="327.00" stroke="#262626" stroke-width="1"/>
<text x="31.60" y="331.10" font-size="12.5" text-anchor="end" font-weight="normal" >15</text>
<rect x="35.8" y="327.0" width="305.00" height="110.40" fill="none" stroke="#262626" stroke-width="1.0"/>
<text x="188.20" y="467.90" font-size="12.9" text-anchor="middle" font-weight="normal" >Time/ min</text>
<text x="0" y="0" font-size="12.9" text-anchor="middle" transform="translate(14.4 382.7) rotate(-90)">Heat generation rate / W</text>
<text x="39.60" y="352.60" font-size="21.5" text-anchor="start" font-weight="bold" style="stroke-width:0.8px" letter-spacing="0.2">(c)</text>
<rect x="35.8" y="487.3" width="305.0" height="109.99999999999994" fill="#fff"/>
<line x1="79.37" y1="597.3" x2="79.37" y2="487.3" stroke="#262626" stroke-width="1" stroke-dasharray="3.4 3.75" stroke-opacity="0.85"/>
<line x1="122.94" y1="597.3" x2="122.94" y2="487.3" stroke="#262626" stroke-width="1" stroke-dasharray="3.4 3.75" stroke-opacity="0.85"/>
<line x1="166.51" y1="597.3" x2="166.51" y2="487.3" stroke="#262626" stroke-width="1" stroke-dasharray="3.4 3.75" stroke-opacity="0.85"/>
<line x1="210.09" y1="597.3" x2="210.09" y2="487.3" stroke="#262626" stroke-width="1" stroke-dasharray="3.4 3.75" stroke-opacity="0.85"/>
<line x1="253.66" y1="597.3" x2="253.66" y2="487.3" stroke="#262626" stroke-width="1" stroke-dasharray="3.4 3.75" stroke-opacity="0.85"/>
<line x1="297.23" y1="597.3" x2="297.23" y2="487.3" stroke="#262626" stroke-width="1" stroke-dasharray="3.4 3.75" stroke-opacity="0.85"/>
<line x1="35.8" y1="560.63" x2="340.8" y2="560.63" stroke="#262626" stroke-width="1" stroke-dasharray="3.4 3.74" stroke-opacity="0.85"/>
<line x1="35.8" y1="523.97" x2="340.8" y2="523.97" stroke="#262626" stroke-width="1" stroke-dasharray="3.4 3.74" stroke-opacity="0.85"/>
<polyline points="35.7,559.9 39.1,556.0 46.0,554.4 55.1,553.7 66.6,553.0 80.3,552.6 94.0,552.6 110.0,553.0 139.2,551.9 173.5,551.9 194.0,551.2 200.0,551.5 217.1,550.8 234.2,548.1 244.5,544.7 253.1,538.8 258.2,535.4 259.0,545.0 261.0,556.0 265.0,557.7 285.6,558.4 323.6,557.7" fill="none" stroke="#72B022" stroke-width="2.4" stroke-linejoin="round" stroke-linecap="round"/>
<polyline points="35.7,559.9 38.0,549.1 41.4,545.7 48.3,543.4 57.4,542.3 68.9,540.7 80.3,540.0 91.7,538.9 100.9,538.4 110.0,537.7 122.1,535.8 139.2,534.1 156.4,532.1 166.6,530.7 175.0,529.3 180.7,525.7 186.4,523.6 195.0,520.7 199.3,516.4 206.4,509.3 211.4,503.6 212.0,520.0 212.9,556.4 217.9,558.6 223.6,560.5 274.0,560.5" fill="none" stroke="#44C2F4" stroke-width="2.4" stroke-linejoin="round" stroke-linecap="round"/>
<polyline points="35.7,560.6 36.4,557.0 37.4,548.0 38.0,543.4 39.1,539.4 41.4,535.4 44.9,532.6 50.6,529.1 56.3,527.4 64.3,524.6 71.1,522.9 78.0,521.0 84.9,517.1 91.7,512.6 97.4,509.1 99.7,505.7 100.4,530.0 100.9,557.1 103.1,559.9 108.9,560.6 165.0,560.6" fill="none" stroke="#AE0F30" stroke-width="2.4" stroke-linejoin="round" stroke-linecap="round"/>
<circle cx="35.7" cy="560.6" r="2.7" fill="#72B022"/>
<circle cx="50.6" cy="553.0" r="2.7" fill="#72B022"/>
<circle cx="64.7" cy="550.7" r="2.7" fill="#72B022"/>
<circle cx="79.1" cy="550.7" r="2.7" fill="#72B022"/>
<circle cx="93.5" cy="550.7" r="2.7" fill="#72B022"/>
<circle cx="107.7" cy="550.9" r="2.7" fill="#72B022"/>
<circle cx="122.8" cy="551.9" r="2.7" fill="#72B022"/>
<circle cx="136.5" cy="551.9" r="2.7" fill="#72B022"/>
<circle cx="151.2" cy="551.9" r="2.7" fill="#72B022"/>
<circle cx="166.0" cy="551.9" r="2.7" fill="#72B022"/>
<circle cx="180.3" cy="551.9" r="2.7" fill="#72B022"/>
<circle cx="195.0" cy="551.2" r="2.7" fill="#72B022"/>
<circle cx="210.3" cy="551.5" r="2.7" fill="#72B022"/>
<circle cx="224.7" cy="550.1" r="2.7" fill="#72B022"/>
<circle cx="239.4" cy="548.1" r="2.7" fill="#72B022"/>
<circle cx="253.1" cy="539.9" r="2.7" fill="#72B022"/>
<circle cx="268.5" cy="560.5" r="2.7" fill="#72B022"/>
<circle cx="282.3" cy="560.5" r="2.7" fill="#72B022"/>
<circle cx="296.9" cy="560.5" r="2.7" fill="#72B022"/>
<circle cx="311.5" cy="560.5" r="2.7" fill="#72B022"/>
<circle cx="35.7" cy="560.6" r="2.7" fill="#44C2F4"/>
<circle cx="52.4" cy="539.3" r="2.7" fill="#44C2F4"/>
<circle cx="69.3" cy="536.1" r="2.7" fill="#44C2F4"/>
<circle cx="86.7" cy="536.1" r="2.7" fill="#44C2F4"/>
<circle cx="104.3" cy="537.0" r="2.7" fill="#44C2F4"/>
<circle cx="120.4" cy="538.2" r="2.7" fill="#44C2F4"/>
<circle cx="137.5" cy="537.5" r="2.7" fill="#44C2F4"/>
<circle cx="154.7" cy="535.8" r="2.7" fill="#44C2F4"/>
<circle cx="171.8" cy="533.8" r="2.7" fill="#44C2F4"/>
<circle cx="188.9" cy="529.0" r="2.7" fill="#44C2F4"/>
<circle cx="206.0" cy="507.4" r="2.7" fill="#44C2F4"/>
<circle cx="223.3" cy="560.5" r="2.7" fill="#44C2F4"/>
<circle cx="240.4" cy="560.5" r="2.7" fill="#44C2F4"/>
<circle cx="257.5" cy="560.5" r="2.7" fill="#44C2F4"/>
<circle cx="274.7" cy="560.5" r="2.7" fill="#44C2F4"/>
<circle cx="35.7" cy="560.6" r="2.7" fill="#AE0F30"/>
<circle cx="50.6" cy="527.0" r="2.7" fill="#AE0F30"/>
<circle cx="64.7" cy="524.7" r="2.7" fill="#AE0F30"/>
<circle cx="78.5" cy="522.2" r="2.7" fill="#AE0F30"/>
<circle cx="92.9" cy="511.4" r="2.7" fill="#AE0F30"/>
<circle cx="108.2" cy="560.6" r="2.7" fill="#AE0F30"/>
<circle cx="122.8" cy="560.6" r="2.7" fill="#AE0F30"/>
<circle cx="136.5" cy="560.6" r="2.7" fill="#AE0F30"/>
<circle cx="151.2" cy="560.6" r="2.7" fill="#AE0F30"/>
<rect x="284.9" y="494.9" width="48.10000000000002" height="47.30000000000007" fill="#fff" stroke="#262626" stroke-width="1"/>
<line x1="287.3" y1="502.9" x2="303.9" y2="502.9" stroke="#72B022" stroke-width="2.2"/>
<text x="305.3" y="508.5" font-size="10.5">0<tspan dy="-5.4" font-size="8">o</tspan><tspan dy="5.4">C</tspan></text>
<line x1="287.3" y1="518.9" x2="303.9" y2="518.9" stroke="#44C2F4" stroke-width="2.2"/>
<text x="305.3" y="524.5" font-size="10.5">-15<tspan dy="-5.4" font-size="8">o</tspan><tspan dy="5.4">C</tspan></text>
<line x1="287.3" y1="533.7" x2="303.9" y2="533.7" stroke="#AE0F30" stroke-width="2.2"/>
<text x="305.3" y="539.3000000000001" font-size="10.5">-30<tspan dy="-5.4" font-size="8">o</tspan><tspan dy="5.4">C</tspan></text>
<line x1="35.80" y1="597.3" x2="35.80" y2="594.3" stroke="#262626" stroke-width="1"/>
<line x1="35.80" y1="487.3" x2="35.80" y2="490.3" stroke="#262626" stroke-width="1"/>
<text x="35.80" y="612.90" font-size="12.5" text-anchor="middle" font-weight="normal" >0</text>
<line x1="79.37" y1="597.3" x2="79.37" y2="594.3" stroke="#262626" stroke-width="1"/>
<line x1="79.37" y1="487.3" x2="79.37" y2="490.3" stroke="#262626" stroke-width="1"/>
<text x="79.37" y="612.90" font-size="12.5" text-anchor="middle" font-weight="normal" >10</text>
<line x1="122.94" y1="597.3" x2="122.94" y2="594.3" stroke="#262626" stroke-width="1"/>
<line x1="122.94" y1="487.3" x2="122.94" y2="490.3" stroke="#262626" stroke-width="1"/>
<text x="122.94" y="612.90" font-size="12.5" text-anchor="middle" font-weight="normal" >20</text>
<line x1="166.51" y1="597.3" x2="166.51" y2="594.3" stroke="#262626" stroke-width="1"/>
<line x1="166.51" y1="487.3" x2="166.51" y2="490.3" stroke="#262626" stroke-width="1"/>
<text x="166.51" y="612.90" font-size="12.5" text-anchor="middle" font-weight="normal" >30</text>
<line x1="210.09" y1="597.3" x2="210.09" y2="594.3" stroke="#262626" stroke-width="1"/>
<line x1="210.09" y1="487.3" x2="210.09" y2="490.3" stroke="#262626" stroke-width="1"/>
<text x="210.09" y="612.90" font-size="12.5" text-anchor="middle" font-weight="normal" >40</text>
<line x1="253.66" y1="597.3" x2="253.66" y2="594.3" stroke="#262626" stroke-width="1"/>
<line x1="253.66" y1="487.3" x2="253.66" y2="490.3" stroke="#262626" stroke-width="1"/>
<text x="253.66" y="612.90" font-size="12.5" text-anchor="middle" font-weight="normal" >50</text>
<line x1="297.23" y1="597.3" x2="297.23" y2="594.3" stroke="#262626" stroke-width="1"/>
<line x1="297.23" y1="487.3" x2="297.23" y2="490.3" stroke="#262626" stroke-width="1"/>
<text x="297.23" y="612.90" font-size="12.5" text-anchor="middle" font-weight="normal" >60</text>
<line x1="340.80" y1="597.3" x2="340.80" y2="594.3" stroke="#262626" stroke-width="1"/>
<line x1="340.80" y1="487.3" x2="340.80" y2="490.3" stroke="#262626" stroke-width="1"/>
<text x="340.80" y="612.90" font-size="12.5" text-anchor="middle" font-weight="normal" >70</text>
<line x1="35.8" y1="597.30" x2="38.8" y2="597.30" stroke="#262626" stroke-width="1"/>
<line x1="340.8" y1="597.30" x2="337.8" y2="597.30" stroke="#262626" stroke-width="1"/>
<text x="31.60" y="601.40" font-size="12.5" text-anchor="end" font-weight="normal" >-20</text>
<line x1="35.8" y1="560.63" x2="38.8" y2="560.63" stroke="#262626" stroke-width="1"/>
<line x1="340.8" y1="560.63" x2="337.8" y2="560.63" stroke="#262626" stroke-width="1"/>
<text x="31.60" y="564.73" font-size="12.5" text-anchor="end" font-weight="normal" >0</text>
<line x1="35.8" y1="523.97" x2="38.8" y2="523.97" stroke="#262626" stroke-width="1"/>
<line x1="340.8" y1="523.97" x2="337.8" y2="523.97" stroke="#262626" stroke-width="1"/>
<text x="31.60" y="528.07" font-size="12.5" text-anchor="end" font-weight="normal" >20</text>
<line x1="35.8" y1="487.30" x2="38.8" y2="487.30" stroke="#262626" stroke-width="1"/>
<line x1="340.8" y1="487.30" x2="337.8" y2="487.30" stroke="#262626" stroke-width="1"/>
<text x="31.60" y="491.40" font-size="12.5" text-anchor="end" font-weight="normal" >40</text>
<rect x="35.8" y="487.3" width="305.00" height="110.00" fill="none" stroke="#262626" stroke-width="1.0"/>
<text x="188.20" y="627.90" font-size="12.9" text-anchor="middle" font-weight="normal" >Time/ min</text>
<text x="0" y="0" font-size="12.9" text-anchor="middle" transform="translate(14.4 542.7) rotate(-90)">Heat generation rate / W</text>
<text x="39.60" y="511.90" font-size="21.5" text-anchor="start" font-weight="bold" style="stroke-width:0.8px" letter-spacing="0.2">(d)</text>
</svg></body></html>
